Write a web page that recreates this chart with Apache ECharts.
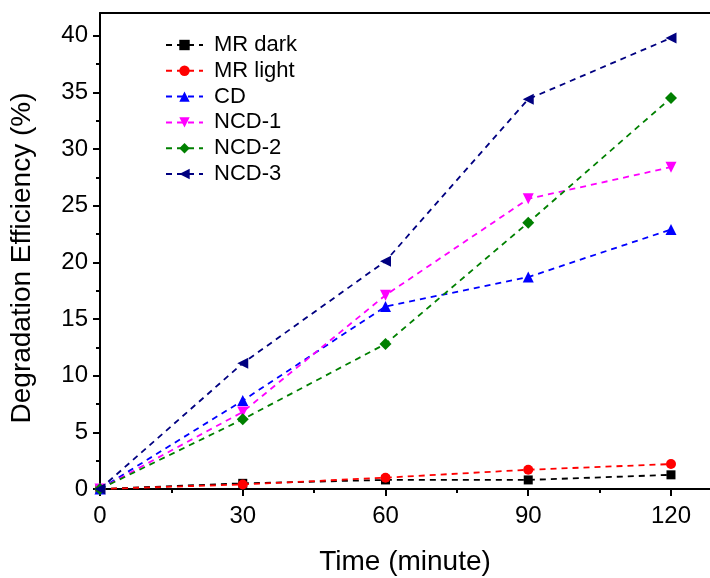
<!DOCTYPE html>
<html>
<head>
<meta charset="utf-8">
<script src="https://cdn.jsdelivr.net/npm/echarts@6/dist/echarts.min.js"></script>
<style>
html,body{margin:0;padding:0;background:#fff;}
#chart{width:710px;height:578px;}
</style>
</head>
<body>
<div id="chart"></div>
<script>
// ---- data ----
var time = [0, 30, 60, 90, 120];
var mrDark  = [0, 0.5, 0.8, 0.8, 1.25];
var mrLight = [0, 0.4, 1.0, 1.7, 2.2];
var cd      = [0, 7.8, 16.1, 18.7, 22.9];
var ncd1    = [0, 6.8, 17.1, 25.6, 28.4];
var ncd2    = [0, 6.15, 12.8, 23.5, 34.5];
var ncd3    = [0, 11.1, 20.1, 34.4, 39.8];
var seriesNames = ['MR dark', 'MR light', 'CD', 'NCD-1', 'NCD-2', 'NCD-3'];
var xMajor = [0, 30, 60, 90, 120];
var xMinor = [15, 45, 75, 105];
var yMajor = [0, 5, 10, 15, 20, 25, 30, 35, 40];
var yMinor = [2.5, 7.5, 12.5, 17.5, 22.5, 27.5, 32.5, 37.5];

var FONT = "Arial, 'Liberation Sans', sans-serif";
var XMAX = 128.2, YMAX = 42;

function pairs(vals) { return time.map(function (t, i) { return [t, vals[i]]; }); }

var styles = [
  { data: mrDark,  color: '#000000', symbol: 'rect', size: 9, rot: 0 },
  { data: mrLight, color: '#ff0000', symbol: 'circle', size: 10, rot: 0 },
  { data: cd,      color: '#0000ff', symbol: 'triangle', size: 11, rot: 0 },
  { data: ncd1,    color: '#ff00ff', symbol: 'triangle', size: 11, rot: 180 },
  { data: ncd2,    color: '#008000', symbol: 'diamond', size: 12, rot: 0 },
  { data: ncd3,    color: '#000080', symbol: 'triangle', size: 11, rot: 90 }
];

var series = styles.map(function (s, i) {
  return {
    name: seriesNames[i],
    type: 'line',
    xAxisIndex: 0,
    yAxisIndex: 0,
    data: pairs(s.data),
    symbol: s.symbol,
    symbolSize: s.size,
    symbolRotate: s.rot,
    showAllSymbol: true,
    itemStyle: { color: s.color },
    lineStyle: { color: s.color, width: 1.8, type: [6, 5] },
    z: 3 + i
  };
});

var axisLine = { show: true, lineStyle: { color: '#000', width: 2 } };

var chart = echarts.init(document.getElementById('chart'));
chart.setOption({
  animation: false,
  backgroundColor: '#fff',
  grid: { left: 100, right: 0, top: 13, bottom: 89, containLabel: false, outerBoundsMode: 'none' },
  legend: {
    orient: 'vertical',
    left: 160,
    top: 29,
    itemWidth: 37,
    itemHeight: 13,
    itemGap: 3.8,
    data: seriesNames,
    textStyle: { fontFamily: FONT, fontSize: 22, color: '#000', padding: [0, 0, 0, 6] }
  },
  xAxis: [
    {
      type: 'value', min: 0, max: XMAX, position: 'bottom',
      name: 'Time (minute)', nameLocation: 'middle', nameGap: 59,
      nameTextStyle: { fontFamily: FONT, fontSize: 28, color: '#000' },
      axisLine: axisLine,
      axisTick: { show: true, inside: false, length: 7, customValues: xMajor, lineStyle: { color: '#000', width: 2 } },
      axisLabel: { show: true, customValues: xMajor, margin: 15, fontFamily: FONT, fontSize: 24, color: '#000' },
      splitLine: { show: false }
    },
    {
      type: 'value', min: 0, max: XMAX, position: 'bottom',
      axisLine: { show: false },
      axisTick: { show: true, inside: false, length: 4, customValues: xMinor, lineStyle: { color: '#000', width: 2 } },
      axisLabel: { show: false },
      splitLine: { show: false }
    },
    {
      type: 'value', min: 0, max: XMAX, position: 'top',
      axisLine: axisLine,
      axisTick: { show: false },
      axisLabel: { show: false },
      splitLine: { show: false }
    }
  ],
  yAxis: [
    {
      type: 'value', min: 0, max: YMAX, position: 'left',
      name: 'Degradation Efficiency (%)', nameLocation: 'middle', nameGap: 64,
      nameTextStyle: { fontFamily: FONT, fontSize: 28, color: '#000', padding: [0, 14, 0, 0] },
      axisLine: axisLine,
      axisTick: { show: true, inside: false, length: 7, customValues: yMajor, lineStyle: { color: '#000', width: 2 } },
      axisLabel: { show: true, customValues: yMajor, margin: 12, fontFamily: FONT, fontSize: 24, color: '#000' },
      splitLine: { show: false }
    },
    {
      type: 'value', min: 0, max: YMAX, position: 'left',
      axisLine: { show: false },
      axisTick: { show: true, inside: false, length: 4, customValues: yMinor, lineStyle: { color: '#000', width: 2 } },
      axisLabel: { show: false },
      splitLine: { show: false }
    }
  ],
  series: series
});
</script>
</body>
</html>
